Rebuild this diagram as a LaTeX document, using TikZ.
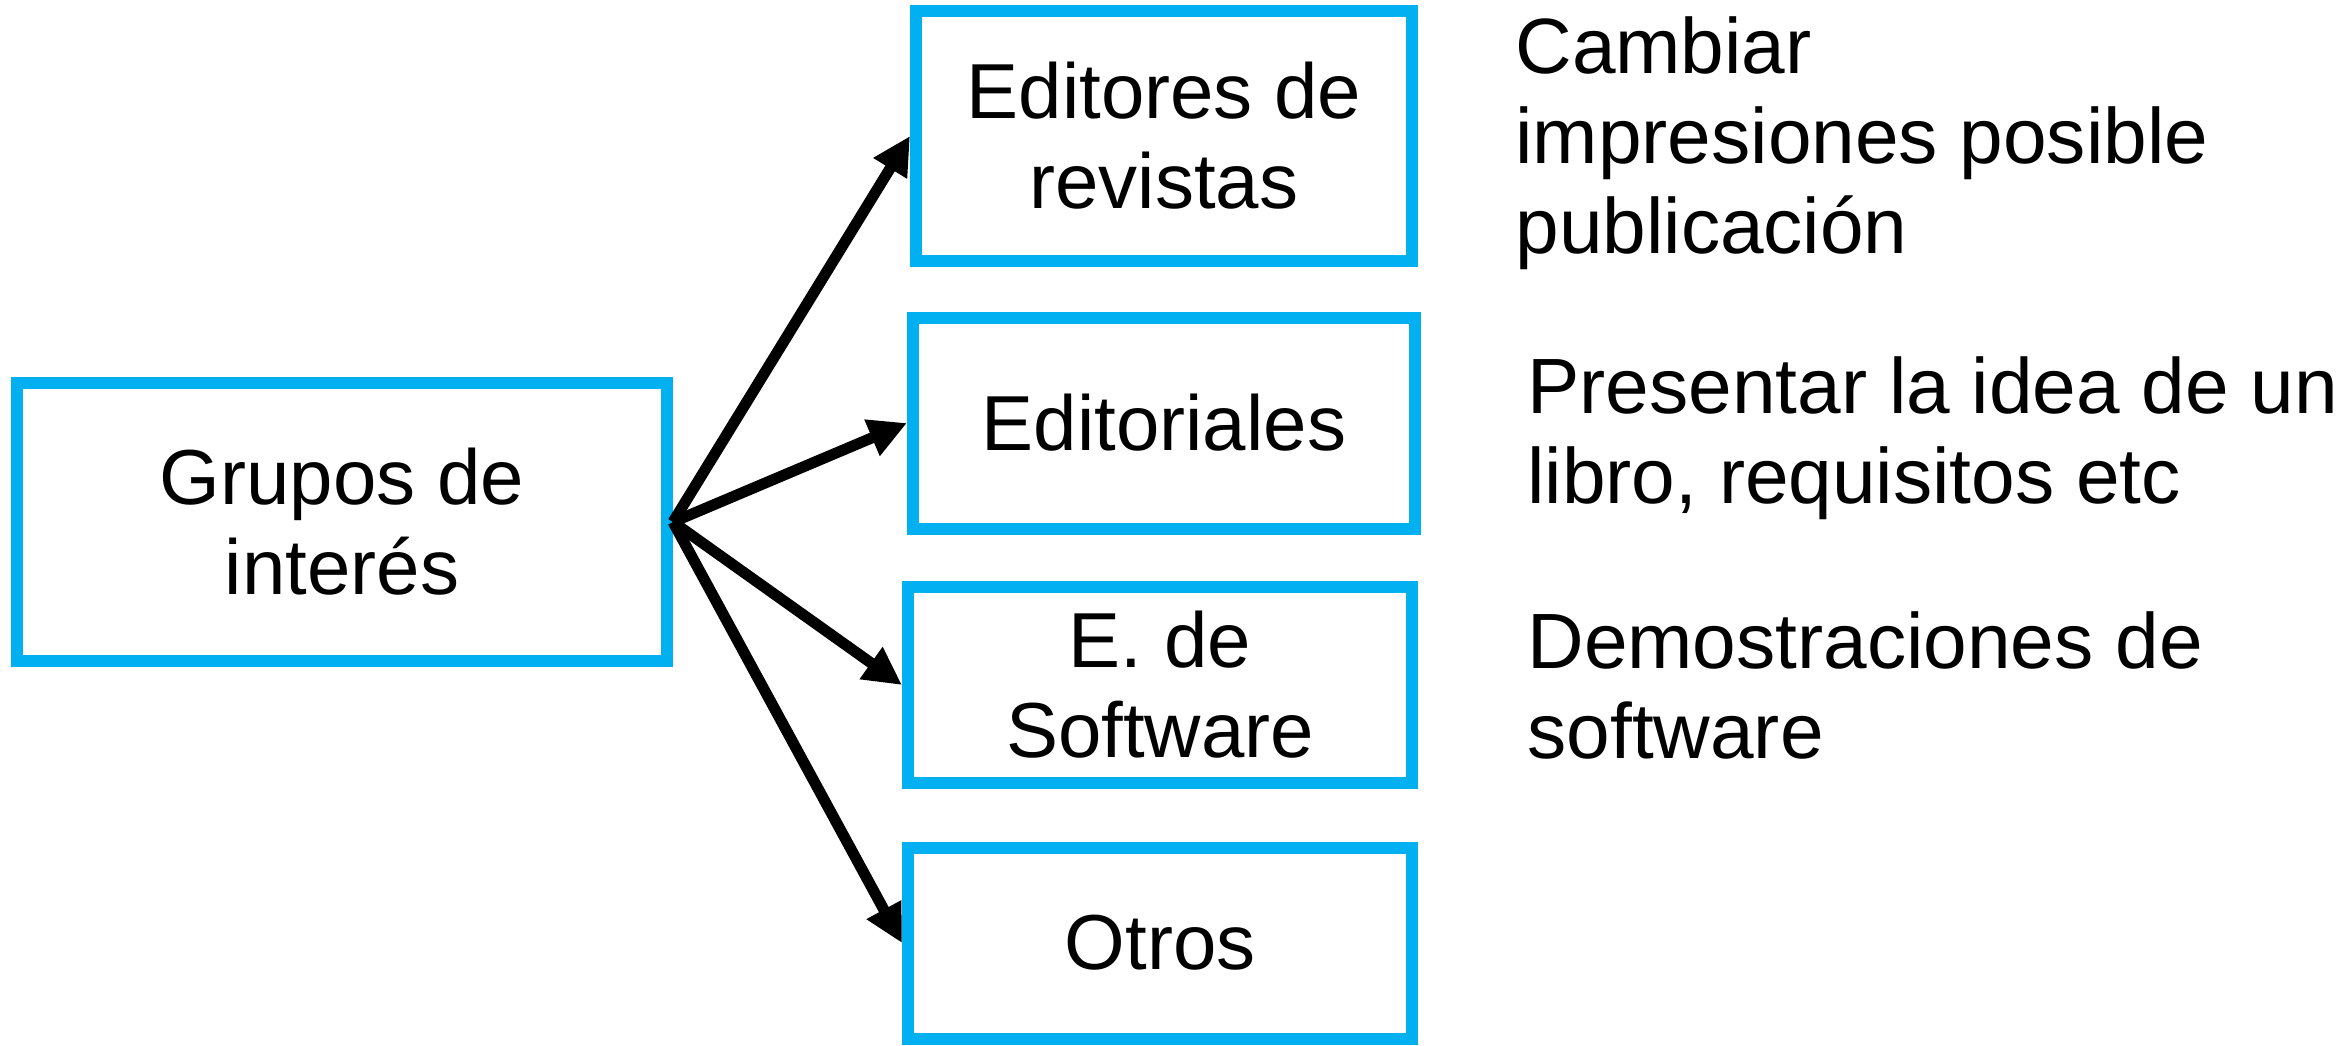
\documentclass[tikz,border=0pt]{standalone}
\usepackage{fontspec}
\setmainfont{Liberation Sans}
\usetikzlibrary{arrows.meta}
\definecolor{boxblue}{RGB}{0,176,240}
\begin{document}
\begin{tikzpicture}[x=0.5pt,y=-0.5pt,
  box/.style={draw=boxblue, line width=6pt, fill=white, inner sep=0pt, align=center,
    font=\fontsize{39}{45}\selectfont},
  conn/.style={line width=5.5pt, -{Triangle[length=19pt,width=18.5pt]}, line join=miter},
  note/.style={inner sep=0pt, align=left, anchor=north west,
    font=\fontsize{39.2}{45}\selectfont}]
\useasboundingbox (0,0) rectangle (2349,1045);
\node[box, minimum width=325pt, minimum height=139pt] (grupos) at (342,522) {Grupos de\\interés};
\node[box, minimum width=248pt, minimum height=125pt] (revistas) at (1164,136) {Editores de\\revistas};
\node[box, minimum width=251pt, minimum height=105.5pt] (editoriales) at (1164,423) {Editoriales};
\node[box, minimum width=252pt, minimum height=98pt] (software) at (1160,685) {E. de\\Software};
\node[box, minimum width=252pt, minimum height=95.5pt] (otros) at (1160,943) {Otros};
\draw[conn] (grupos.east) -- (revistas.west);
\draw[conn] (grupos.east) -- (editoriales.west);
\draw[conn] (grupos.east) -- (software.west);
\draw[conn] (grupos.east) -- (otros.west);
\node[note] (t1) at (1515,16.5) {Cambiar\\impresiones posible\\publicación};
\node[note] (t2) at (1527,356) {Presentar la idea de un\\libro, requisitos etc};
\node[note] (t3) at (1527,611.5) {Demostraciones de\\software};
\end{tikzpicture}
\end{document}
